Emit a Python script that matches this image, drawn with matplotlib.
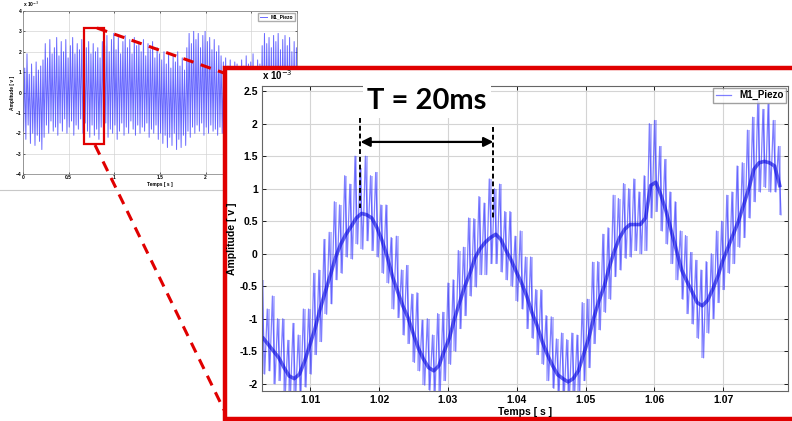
import numpy as np
import matplotlib.pyplot as plt
from matplotlib.patches import Rectangle
from matplotlib.lines import Line2D

plt.rcParams['font.family'] = ['Liberation Sans', 'DejaVu Sans']

# overview record 0..3 s : spike tops / bottoms every 25 ms (x 1e-3 V)
ov_hi = [1.8, 1.2, 1.9, 0.9, 1.4, 0.8, 1.5, 1.1, 1.3, 1.6,
         2.4, 1.7, 2.6, 1.9, 2.2, 2.7, 1.8, 2.5, 2.0, 2.6,
         1.7, 2.3, 2.7, 1.9, 2.4, 2.1, 2.6, 1.8, 2.2, 2.5,
         1.9, 2.4, 2.0, 2.2, 1.7, 2.5, 2.3, 2.8, 2.0, 2.6,
         2.9, 2.1, 2.7, 1.9, 2.5, 2.8, 2.2, 2.6, 1.9, 2.7,
         2.3, 2.5, 2.0, 2.6, 1.8, 2.4, 2.1, 2.5, 1.7, 2.2,
         1.9, 1.6, 2.0, 1.4, 1.9, 1.2, 1.8, 1.5, 2.0, 1.3,
         1.7, 1.1, 2.2, 2.9, 2.4, 3.0, 2.6, 2.9, 2.2, 2.8,
         3.0, 2.5, 2.7, 2.1, 2.6, 2.0, 2.3, 1.8, 1.5, 1.7,
         1.3, 1.6, 1.2, 1.5, 1.4, 1.1, 1.6, 1.3, 1.8, 1.4,
         1.5, 1.9, 1.2, 1.6, 1.4, 2.3, 2.9, 2.4, 2.7, 2.2,
         2.8, 2.5, 2.9, 2.1, 2.6, 2.8, 2.3, 2.7, 2.0, 2.5, 2.2]
ov_lo = [-1.9, -2.3, -1.6, -2.5, -2.0, -2.6, -2.1, -2.4, -2.8, -2.2,
         -1.6, -2.0, -1.4, -1.9, -1.7, -2.1, -1.5, -1.9, -1.3, -2.0,
         -1.7, -1.4, -2.1, -1.6, -1.8, -1.3, -2.0, -1.5, -1.9, -2.2,
         -1.6, -2.1, -1.8, -2.3, -1.7, -2.0, -1.5, -2.2, -1.8, -2.0,
         -1.6, -2.3, -1.9, -1.5, -2.1, -1.7, -2.0, -1.4, -1.8, -2.1,
         -1.6, -2.0, -1.7, -1.9, -1.5, -2.2, -1.8, -2.0, -1.6, -2.3,
         -2.0, -2.5, -2.1, -2.7, -2.2, -2.6, -2.0, -2.8, -2.3, -2.7,
         -2.1, -2.6, -1.9, -2.2, -1.7, -2.0, -1.6, -1.9, -1.5, -2.1,
         -1.7, -2.0, -1.6, -1.9, -1.8, -2.1, -1.7, -2.0, -1.9, -2.2,
         -1.8, -2.1, -1.6, -2.0, -1.9, -2.3, -1.7, -2.1, -1.8, -2.0,
         -1.6, -2.2, -1.9, -2.0, -1.7, -2.1, -1.8, -2.0, -1.6, -2.2,
         -1.9, -2.1, -1.7, -2.0, -1.8, -2.2, -1.6, -2.0, -1.9, -2.1, -1.8]

# zoomed window 1.0032..1.0782 s : one spike every 0.75 ms (x 1e-3 V)
core = [-1.3, -1.4, -1.5, -1.6, -1.75, -1.88, -1.92, -1.85, -1.65, -1.4,
        -1.15, -0.85, -0.58, -0.32, -0.05, 0.15, 0.3, 0.42, 0.55, 0.62,
        0.6, 0.55, 0.4, 0.2, -0.05, -0.35, -0.58, -0.8, -0.98, -1.22,
        -1.45, -1.62, -1.75, -1.8, -1.72, -1.5, -1.3, -1.0, -0.75, -0.5,
        -0.3, -0.06, 0.08, 0.18, 0.25, 0.3, 0.22, 0.05, -0.1, -0.28,
        -0.45, -0.65, -0.9, -1.1, -1.35, -1.55, -1.72, -1.86, -1.92, -1.97,
        -1.92, -1.8, -1.55, -1.3, -0.98, -0.72, -0.5, -0.2, 0.05, 0.25,
        0.38, 0.45, 0.45, 0.45, 0.55, 1.05, 1.1, 0.9, 0.65, 0.35,
        0.05, -0.25, -0.42, -0.58, -0.75, -0.8, -0.72, -0.55, -0.35, -0.1,
        0.1, 0.3, 0.5, 0.75, 1.0, 1.3, 1.4, 1.42, 1.4, 1.35, 1.05]
hi = [-0.4, -0.85, -0.65, -1.0, -1.0, -1.33, -1.07, -1.25, -0.85, -0.85,
      -0.3, -0.25, 0.22, 0.33, 0.8, 0.75, 1.2, 1.07, 1.5, 1.32,
      1.5, 1.2, 1.25, 0.75, 0.75, 0.25, 0.27, -0.25, -0.18, -0.62,
      -0.6, -1.02, -1.0, -1.25, -0.92, -0.9, -0.45, -0.4, 0.05, 0.1,
      0.55, 0.54, 0.88, 0.78, 1.15, 1.0, 1.07, 0.65, 0.65, 0.27,
      0.35, -0.05, -0.05, -0.55, -0.55, -0.95, -0.97, -1.31, -1.22, -1.32,
      -1.22, -1.25, -0.75, -0.7, -0.13, -0.12, 0.3, 0.4, 0.9, 0.85,
      1.08, 1.0, 1.15, 0.95, 1.2, 2.0, 2.05, 1.65, 1.45, 0.95,
      0.8, 0.35, 0.28, 0.02, -0.1, -0.25, -0.12, 0.0, 0.35, 0.5,
      0.9, 0.95, 1.35, 1.4, 1.9, 2.1, 2.35, 2.22, 2.3, 2.05, 1.65]
lo = [-1.85, -1.8, -2.0, -1.95, -2.15, -2.18, -2.22, -2.2, -2.05, -1.85,
      -1.55, -1.35, -0.93, -0.77, -0.4, -0.3, -0.05, -0.08, 0.15, 0.07,
      0.2, 0.05, -0.05, -0.3, -0.45, -0.85, -0.98, -1.25, -1.38, -1.67,
      -1.8, -2.02, -2.1, -2.15, -2.12, -1.95, -1.7, -1.5, -1.15, -0.95,
      -0.65, -0.51, -0.32, -0.32, -0.15, -0.15, -0.28, -0.4, -0.5, -0.73,
      -0.85, -1.15, -1.3, -1.55, -1.7, -1.95, -2.07, -2.16, -2.22, -2.27,
      -2.22, -2.15, -1.95, -1.75, -1.38, -1.17, -0.9, -0.7, -0.35, -0.25,
      -0.07, -0.05, 0.05, 0.0, 0.05, 0.55, 0.65, 0.35, 0.15, -0.15,
      -0.4, -0.7, -0.92, -1.08, -1.3, -1.6, -1.22, -1.0, -0.75, -0.55,
      -0.3, -0.15, 0.1, 0.25, 0.55, 0.8, 0.95, 1.02, 0.95, 0.95, 0.6]

# period markers (s) and label
peak_1, peak_2 = 1.0173, 1.0366
period_label = 'T = 20ms'

ov_t = np.linspace(0, 3, len(ov_hi))
t = np.linspace(1.0032, 1.0782, len(core))
ov_x = np.column_stack([ov_t - 0.00625, ov_t + 0.00625]).ravel()
ov_y = np.column_stack([ov_hi, ov_lo]).ravel()
dt = t[1] - t[0]
zx = np.column_stack([t - dt / 4, t + dt / 4]).ravel()
zy = np.column_stack([hi, lo]).ravel()

W, H = 792, 421
fig = plt.figure(figsize=(W / 100, H / 100), dpi=100)

def fx(px):
    return px / W

def fy(py):
    return 1 - py / H

grid_c = '#d4d4d4'
blue = '#2a2aff'

# ---- small overview chart ----
ax0 = fig.add_axes([fx(23), fy(174), fx(274), 163 / H], zorder=0)
ax0.plot(ov_x, ov_y, color=blue, lw=0.7, alpha=0.7, label='M1_Piezo')
ax0.set_xlim(0, 3)
ax0.set_ylim(-4, 4)
ax0.set_xticks([0, 0.5, 1, 1.5, 2, 2.5, 3])
ax0.set_xticklabels(['0', '0.5', '1', '1.5', '2', '2.5', '3'])
ax0.set_yticks(range(-4, 5))
ax0.grid(True, color=grid_c, lw=0.5)
ax0.tick_params(direction='in', top=True, right=True, length=1.5, width=0.4,
                labelsize=3.5, pad=1)
for lab in ax0.get_xticklabels() + ax0.get_yticklabels():
    lab.set_fontweight('bold')
ax0.set_xlabel('Temps [ s ]', fontsize=3.5, fontweight='bold', labelpad=1)
ax0.set_ylabel('Amplitude [ v ]', fontsize=3.5, fontweight='bold', labelpad=1)
ax0.text(0, 1.01, r'x 10$^{-3}$', transform=ax0.transAxes, fontsize=3.5,
         fontweight='bold', va='bottom')
for s in ax0.spines.values():
    s.set_color('#777777')
    s.set_linewidth(0.5)
ax0.legend(loc='upper right', frameon=True, fancybox=False,
           edgecolor='#999999', handlelength=1.5, borderpad=0.3,
           borderaxespad=0.4, prop={'size': 3.5, 'weight': 'bold'})
ax0.add_patch(Rectangle((0.67, -2.55), 0.22, 5.74, fill=False,
                        edgecolor='#e00000', lw=1.6, zorder=5))

# grey edge of the screenshot under the overview
fig.add_artist(Line2D([0, fx(224)], [fy(190), fy(190)], color='#c8c8c8',
                      lw=0.8, transform=fig.transFigure, zorder=0.5))

# red dashed connectors
for (x0, y0), (x1, y1) in [((97, 28), (224, 73)), ((95, 145), (224, 410))]:
    fig.add_artist(Line2D([fx(x0), fx(x1)], [fy(y0), fy(y1)],
                          color='#e00000', lw=2.2, ls=(0, (3.5, 2.5)),
                          transform=fig.transFigure, zorder=1))

# red frame around the zoomed chart
fig.add_artist(Rectangle((fx(225), fy(419)), 1.0, fy(68) - fy(419),
                         transform=fig.transFigure, facecolor='white',
                         edgecolor='#e00000', lw=3.2, zorder=2))

# ---- zoomed chart ----
ax = fig.add_axes([fx(262), fy(391), fx(526), 305 / H], zorder=3)
ax.vlines(t, lo, hi, color=blue, lw=1.3, alpha=0.35)
ax.plot(zx, zy, color=blue, lw=0.9, alpha=0.6, label='M1_Piezo')
ax.plot(t, core, color='#0000dd', lw=2.6, alpha=0.6)
ax.set_xlim(1.0030, 1.0794)
ax.set_ylim(-2.11, 2.58)
ax.set_xticks([1.01, 1.02, 1.03, 1.04, 1.05, 1.06, 1.07])
ax.set_xticklabels(['1.01', '1.02', '1.03', '1.04', '1.05', '1.06', '1.07'])
ax.set_yticks([-2, -1.5, -1, -0.5, 0, 0.5, 1, 1.5, 2, 2.5])
ax.set_yticklabels(['-2', '-1.5', '-1', '-0.5', '0', '0.5', '1', '1.5', '2', '2.5'])
ax.grid(True, color=grid_c, lw=0.8)
ax.tick_params(direction='in', top=True, right=True, length=3, width=0.6,
               labelsize=7.5, pad=3)
for lab in ax.get_xticklabels() + ax.get_yticklabels():
    lab.set_fontweight('bold')
for s in ax.spines.values():
    s.set_color('#666666')
    s.set_linewidth(0.8)
ax.set_xlabel('Temps [ s ]', fontsize=7.5, fontweight='bold', labelpad=1)
ax.set_ylabel('Amplitude [ v ]', fontsize=7.5, fontweight='bold', labelpad=2)
ax.text(0, 1.012, r'x 10$^{-3}$', transform=ax.transAxes, fontsize=7,
        fontweight='bold', va='bottom')
ax.legend(loc='upper right', fancybox=False, edgecolor='#888888',
          handlelength=1.6, borderpad=0.25, borderaxespad=0.2,
          prop={'size': 7, 'weight': 'bold'})

# period annotation
ax.plot([peak_1, peak_1], [2.09, 0.71], color='black', lw=1.4, ls=(0, (2.5, 1.5)))
ax.plot([peak_2, peak_2], [1.95, 0.55], color='black', lw=1.4, ls=(0, (2.5, 1.5)))
ax.annotate('', xy=(peak_1, 1.72), xytext=(peak_2, 1.72),
            arrowprops=dict(arrowstyle='<|-|>', color='black', lw=1.6,
                            mutation_scale=14, shrinkA=0, shrinkB=0))
ax.text((peak_1 + peak_2) / 2, 2.35, period_label, ha='center', va='center',
        fontsize=21, fontweight='bold', family=['Lato', 'DejaVu Sans'],
        bbox=dict(facecolor='white', edgecolor='none', pad=3),
        clip_on=False, zorder=10)

fig.savefig('out.png', dpi=100)
